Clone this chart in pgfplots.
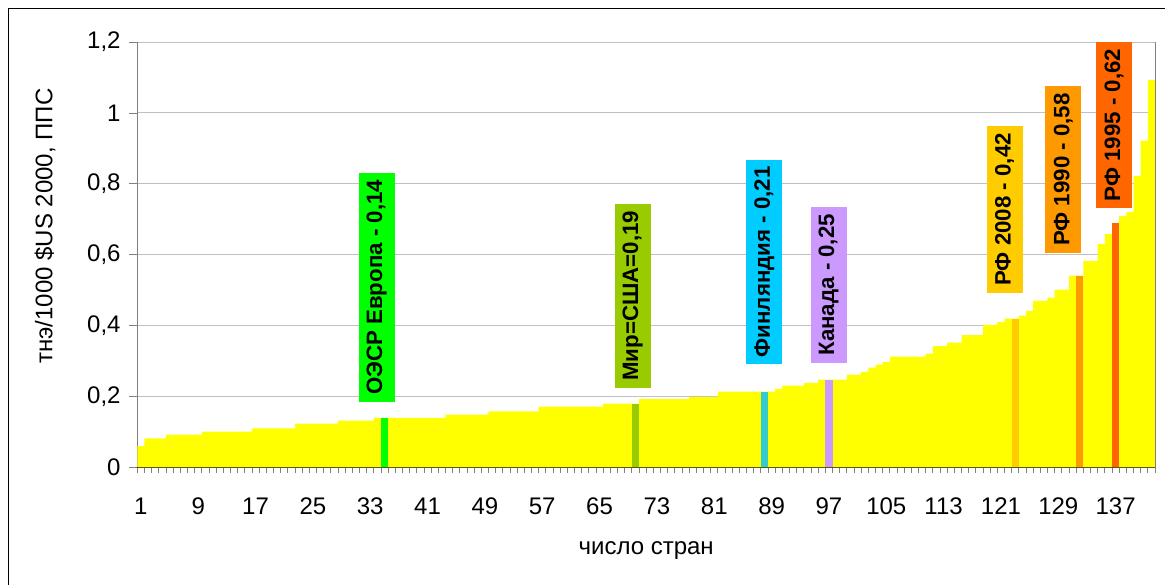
\documentclass[border=0pt]{standalone}
\usepackage{fontspec}
\setmainfont{Liberation Sans}
\usepackage{pgfplots}
\usepackage{pgfplotstable}
\pgfplotsset{compat=1.18}

\definecolor{baryellow}{HTML}{FFFF00}
\definecolor{oecd}{HTML}{00FF00}
\definecolor{world}{HTML}{99CC00}
\definecolor{finbox}{HTML}{00CCFF}
\definecolor{finbar}{HTML}{33CCCC}
\definecolor{canada}{HTML}{CC99FF}
\definecolor{rfa}{HTML}{FFCC00}
\definecolor{rfb}{HTML}{FF9900}
\definecolor{rfc}{HTML}{FF6600}
\definecolor{gridgray}{HTML}{C0C0C0}
\definecolor{axisgray}{HTML}{808080}

\tikzset{annot/.style={rotate=90, font=\bfseries\fontsize{16.7}{19}\selectfont,
    minimum height=27pt, inner xsep=5.25pt, inner ysep=0pt, anchor=center}}

% energy intensity by country, sorted
\pgfplotstableread{
n v
1 0.060
2 0.082
3 0.082
4 0.082
5 0.093
6 0.093
7 0.093
8 0.093
9 0.093
10 0.101
11 0.101
12 0.101
13 0.101
14 0.101
15 0.101
16 0.101
17 0.110
18 0.110
19 0.110
20 0.110
21 0.110
22 0.110
23 0.124
24 0.124
25 0.124
26 0.124
27 0.124
28 0.124
29 0.132
30 0.132
31 0.132
32 0.132
33 0.132
34 0.140
35 0.140
36 0.140
37 0.140
38 0.140
39 0.140
40 0.140
41 0.140
42 0.140
43 0.140
44 0.149
45 0.149
46 0.149
47 0.149
48 0.149
49 0.149
50 0.158
51 0.158
52 0.158
53 0.158
54 0.158
55 0.158
56 0.158
57 0.172
58 0.172
59 0.172
60 0.172
61 0.172
62 0.172
63 0.172
64 0.172
65 0.172
66 0.180
67 0.180
68 0.180
69 0.180
70 0.180
71 0.193
72 0.193
73 0.193
74 0.193
75 0.193
76 0.193
77 0.193
78 0.199
79 0.199
80 0.199
81 0.199
82 0.214
83 0.214
84 0.214
85 0.214
86 0.214
87 0.214
88 0.214
89 0.214
90 0.222
91 0.231
92 0.231
93 0.231
94 0.239
95 0.239
96 0.248
97 0.248
98 0.248
99 0.248
100 0.262
101 0.262
102 0.270
103 0.282
104 0.290
105 0.298
106 0.313
107 0.313
108 0.313
109 0.313
110 0.313
111 0.321
112 0.342
113 0.342
114 0.352
115 0.352
116 0.373
117 0.373
118 0.373
119 0.402
120 0.402
121 0.411
122 0.420
123 0.420
124 0.428
125 0.442
126 0.470
127 0.470
128 0.479
129 0.502
130 0.502
131 0.541
132 0.541
133 0.583
134 0.583
135 0.631
136 0.659
137 0.690
138 0.710
139 0.721
140 0.822
141 0.922
142 1.093
}\intensity

\begin{document}
\begin{tikzpicture}
\useasboundingbox (0,0) rectangle (873.75pt,438.75pt);
\draw[line width=0.7pt] (6pt,0) -- (6pt,432.75pt) -- (873.75pt,432.75pt);
\begin{axis}[
  at={(102.98pt,88.13pt)}, anchor=south west,
  scale only axis,
  width=763.3pt, height=319.1pt,
  xmin=0.5, xmax=142.5,
  ymin=0, ymax=1.2,
  axis lines=left,
  axis line style={-},
  x axis line style={black, line width=0.8pt},
  y axis line style={axisgray, line width=0.8pt},
  tick align=outside,
  major tick length=6pt,
  minor tick length=4.3pt,
  xtick={1,9,...,137},
  xticklabels={1,9,17,25,33,41,49,57,65,73,81,89,97,105,113,121,129,137},
  minor xtick={0.5,1.5,...,142.5},
  major x tick style={draw=none},
  minor x tick style={axisgray, line width=0.6pt},
  ytick={0,0.2,...,1.2},
  yticklabels={0,{0,2},{0,4},{0,6},{0,8},1,{1,2}},
  major y tick style={axisgray, line width=0.6pt},
  ymajorgrids,
  grid style={gridgray, line width=0.7pt},
  tick label style={font=\fontsize{18}{21}\selectfont},
  xticklabel style={yshift=-13pt},
  yticklabel style={xshift=-3pt},
  xlabel={число стран},
  ylabel={тнэ/1000 \$US 2000, ППС},
  every axis x label/.style={at={(axis description cs:0.5,-0.196)}, anchor=center,
    font=\fontsize{18}{21}\selectfont},
  every axis y label/.style={at={(axis description cs:-0.0907,0.5676)}, anchor=center, rotate=90,
    font=\fontsize{18}{21}\selectfont},
  clip=false,
]
\addplot[ybar, bar width=1, bar shift=0pt, fill=baryellow, draw=none] table[x=n, y=v]{\intensity};
\addplot[ybar, bar width=1, bar shift=0pt, fill=oecd, draw=none] coordinates {(35,0.140)};
\addplot[ybar, bar width=1, bar shift=0pt, fill=world, draw=none] coordinates {(70,0.180)};
\addplot[ybar, bar width=1, bar shift=0pt, fill=finbar, draw=none] coordinates {(88,0.214)};
\addplot[ybar, bar width=1, bar shift=0pt, fill=canada, draw=none] coordinates {(97,0.248)};
\addplot[ybar, bar width=1, bar shift=0pt, fill=rfa, draw=none] coordinates {(123,0.420)};
\addplot[ybar, bar width=1, bar shift=0pt, fill=rfb, draw=none] coordinates {(132,0.541)};
\addplot[ybar, bar width=1, bar shift=0pt, fill=rfc, draw=none] coordinates {(137,0.690)};
\draw[axisgray, line width=0.8pt] (rel axis cs:1,0) -- (rel axis cs:1,1);

\node[annot, fill=oecd] at (axis cs:33.9,0.508) {ОЭСР Европа - 0,14};
\node[annot, fill=world] at (axis cs:69.6,0.484) {Мир=США=0,19};
\node[annot, fill=finbox] at (axis cs:88.0,0.580) {Финляндия - 0,21};
\node[annot, fill=canada] at (axis cs:96.96,0.515) {Канада - 0,25};
\node[annot, fill=rfa] at (axis cs:121.5,0.728) {РФ 2008 - 0,42};
\node[annot, fill=rfb] at (axis cs:129.7,0.840) {РФ 1990 - 0,58};
\node[annot, fill=rfc] at (axis cs:136.8,0.966) {РФ 1995 - 0,62};
\end{axis}
\end{tikzpicture}
\end{document}
